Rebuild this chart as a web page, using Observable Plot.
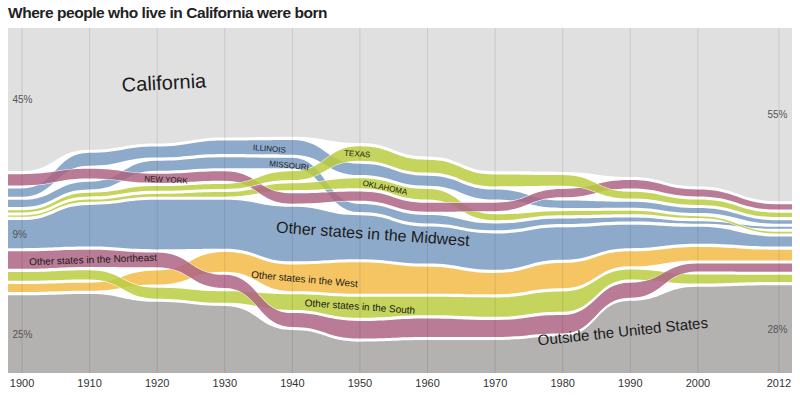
<!DOCTYPE html>
<html><head><meta charset="utf-8">
<script src="https://cdn.jsdelivr.net/npm/d3@7"></script>
<script src="https://cdn.jsdelivr.net/npm/@observablehq/plot@0.6"></script>
<style>
body{margin:0;background:#fff;width:800px;height:395px;overflow:hidden}
#title{height:28px;box-sizing:border-box;padding:4px 0 0 8px;font:bold 15.5px "Liberation Sans Narrow","Liberation Sans",sans-serif;color:#222;letter-spacing:-0.45px}
#chart svg{display:block}
</style></head><body>
<div id="title">Where people who live in California were born</div>
<div id="chart"></div>
<script>
// ---- data (percent of California residents, by birthplace) ----
const years = [1900,1910,1920,1930,1940,1950,1960,1970,1980,1990,2000,2012];
const california = [45, 39.4, 37.7, 35.5, 35, 37, 42, 46, 46.4, 48, 51.2, 55];
const outsideUS  = [24.8, 25.2, 22.7, 21.4, 13.7, 10.0, 10.5, 10.5, 11.6, 23.0, 27.5, 28.0];
const newYork    = [3.6, 3.1, 2.9, 3.0, 3.3, 3.0, 2.9, 2.7, 2.7, 2.7, 2.2, 1.7];
const illinois   = [2.6, 4.1, 3.5, 4.3, 4.7, 3.6, 3.2, 3.2, 2.4, 1.9, 1.6, 1.1];
const missouri   = [2.3, 2.5, 3.2, 3.5, 3.3, 2.6, 2.7, 2.2, 1.8, 1.3, 0.8, 0.6];
const texas      = [0.7, 1.2, 1.5, 1.6, 2.8, 4.6, 4.1, 3.8, 3.4, 2.2, 1.7, 1.4];
const oklahoma   = [0.4, 0.7, 0.9, 1.5, 2.2, 3.2, 3.4, 1.9, 1.3, 1.1, 0.6, 0.5];
const otherMidwest   = [9.0, 13.3, 15.8, 15.6, 17.4, 14.0, 11.8, 11.6, 10.4, 7.5, 5.4, 3.2];
const otherNortheast = [5.6, 5.5, 4.7, 4.2, 4.4, 5.6, 5.9, 5.4, 5.9, 4.8, 2.5, 2.6];
const otherSouth     = [2.8, 3.0, 3.5, 3.7, 5.0, 6.7, 5.9, 6.2, 6.5, 3.2, 2.9, 2.3];
const otherWest      = [2.6, 2.6, 4.5, 6.3, 8.5, 10.0, 8.6, 6.8, 8.1, 4.8, 4.3, 3.4];
// top-to-bottom order of the middle bands in each year
const bandOrder = [
  ["NY","IL","MO","TX","OK","MW","NE","SO","WE"],
  ["IL","NY","MO","TX","OK","MW","NE","SO","WE"],
  ["IL","MO","NY","TX","OK","MW","NE","WE","SO"],
  ["IL","MO","NY","TX","OK","MW","WE","NE","SO"],
  ["IL","MO","TX","OK","NY","MW","WE","SO","NE"],
  ["TX","IL","OK","NY","MO","MW","WE","SO","NE"],
  ["TX","IL","OK","NY","MO","MW","WE","SO","NE"],
  ["TX","IL","NY","OK","MO","MW","WE","SO","NE"],
  ["TX","NY","IL","OK","MO","MW","WE","SO","NE"],
  ["NY","TX","IL","OK","MO","MW","WE","SO","NE"],
  ["NY","TX","IL","OK","MO","MW","WE","NE","SO"],
  ["NY","TX","IL","MO","OK","MW","WE","NE","SO"]
];
const bandKeys   = ["MW","WE","SO","NE","MO","IL","OK","NY","TX"]; // drawing order
const bandValues = {NY:newYork, IL:illinois, MO:missouri, TX:texas, OK:oklahoma, MW:otherMidwest, NE:otherNortheast, SO:otherSouth, WE:otherWest};
const bandColors = {NY:"#ad6484", IL:"#7a9bc2", MO:"#7a9bc2", TX:"#bbcc40", OK:"#bbcc40", MW:"#7a9bc2", NE:"#ad6484", SO:"#bbcc40", WE:"#f4bb48"};
// labels
const labelText   = ["California","ILLINOIS","MISSOURI","NEW YORK","TEXAS","OKLAHOMA","Other states in the Midwest","Other states in the Northeast","Other states in the West","Other states in the South","Outside the United States"];
const labelKey    = ["CA","IL","MO","NY","TX","OK","MW","NE","WE","SO","OUT"];
const labelYear   = [1921, 1936.6, 1939.5, 1921.3, 1949.6, 1953.7, 1951.9, 1910.5, 1941.8, 1950, 1988.9];
const labelDy     = [-3, 1, 2, 1, 0, 1, -4, 1, 1, -1, -6];
const labelRotate = [-3, 5, 6, 3, 4, 12, 4, -2, 5, 4, -6];
const labelSize   = [20, 8, 8, 8, 8, 8, 16, 10, 10, 10, 15];

// ---- layout computation ----
const G = 1.0;                    // gap between bands, in percentage points
const yTop = 100 + 10 * G;
const xDomain = [1898, 2014];
const xs = [xDomain[0], ...years, xDomain[1]];
const idx = i => Math.min(years.length - 1, Math.max(0, i - 1));
const stacks = xs.map((x, j) => {
  const i = idx(j);
  const s = {OUT: [0, outsideUS[i]]};
  let c = outsideUS[i] + G;
  for (const k of [...bandOrder[i]].reverse()) { s[k] = [c, c + bandValues[k][i]]; c += bandValues[k][i] + G; }
  s.CA = [c, yTop];
  return s;
});
const rows = [];
xs.forEach((x, j) => { for (const k in stacks[j]) rows.push({key: k, x, y1: stacks[j][k][0], y2: stacks[j][k][1]}); });
const of = k => rows.filter(r => r.key === k);

// vertical centre of a band at year t, following the bump-x curve
function bandY(k, t) {
  let j = 0; while (j < xs.length - 2 && t > xs[j + 1]) j++;
  const u = (t - xs[j]) / (xs[j + 1] - xs[j]);
  let lo = 0, hi = 1;
  for (let n = 0; n < 40; n++) { const m = (lo + hi) / 2; (1.5*m - 1.5*m*m + m*m*m < u) ? lo = m : hi = m; }
  const s = (lo + hi) / 2, w = 3*s*s - 2*s*s*s;
  const a = stacks[j][k], b = stacks[j + 1][k];
  return ((a[0] + (b[0] - a[0]) * w) + (a[1] + (b[1] - a[1]) * w)) / 2;
}

const marks = [
  Plot.areaY(of("CA"), {x: "x", y1: "y1", y2: "y2", fill: "#e0e0e0", curve: "bump-x"}),
  Plot.areaY(of("OUT"), {x: "x", y1: "y1", y2: "y2", fill: "#b3b2b1", curve: "bump-x"})
];
for (const k of bandKeys) {
  marks.push(Plot.areaY(of(k), {x: "x", y1: "y1", y2: "y2", fill: bandColors[k], fillOpacity: 0.85,
    stroke: "#fff", strokeWidth: 1, paintOrder: "stroke", curve: "bump-x"}));
}
marks.push(Plot.ruleX(years, {stroke: "#000", strokeOpacity: 0.1}));
// percent labels at both ends
const n = years.length - 1, last = stacks.length - 1;
const pctL = [
  {x: xDomain[0], y: (stacks[0].CA[0] + yTop) / 2, t: california[0]},
  {x: xDomain[0], y: bandY("MW", 1900), t: otherMidwest[0]},
  {x: xDomain[0], y: outsideUS[0] / 2, t: outsideUS[0]},
];
const pctR = [
  {x: xDomain[1], y: (stacks[last].CA[0] + yTop) / 2, t: california[n]},
  {x: xDomain[1], y: outsideUS[n] / 2, t: outsideUS[n]},
];
marks.push(Plot.text(pctL, {x: "x", y: "y", text: d => Math.round(d.t) + "%", textAnchor: "start", dx: 4, fontSize: 10, fill: "#555"}));
marks.push(Plot.text(pctR, {x: "x", y: "y", text: d => Math.round(d.t) + "%", textAnchor: "end", dx: -5, fontSize: 10, fill: "#555"}));
labelText.forEach((t, i) => {
  const k = labelKey[i];
  const y = k === "CA" ? (yTop + stacks[3].CA[0]) / 2 : bandY(k, labelYear[i]);
  marks.push(Plot.text([{x: labelYear[i], y}],
    {x: "x", y: "y", text: () => t, dy: labelDy[i], rotate: labelRotate[i], fontSize: labelSize[i], fill: "#1a1a1a"}));
});

const chart = Plot.plot({
  width: 800, height: 367,
  marginTop: 0, marginBottom: 22, marginLeft: 8, marginRight: 8,
  style: {fontFamily: "'Liberation Sans', Arial, sans-serif", background: "#fff"},
  x: {domain: xDomain, ticks: years, tickFormat: d => String(d), tickSize: 0, tickPadding: 6, label: null},
  y: {domain: [0, yTop], axis: null},
  marks
});
chart.querySelectorAll('[aria-label="x-axis tick label"]').forEach(e => {
  e.setAttribute("font-family", "'Liberation Sans Narrow', sans-serif"); e.setAttribute("font-size", "11"); e.setAttribute("fill", "#333");
});
document.getElementById("chart").appendChild(chart);
</script>
</body></html>
